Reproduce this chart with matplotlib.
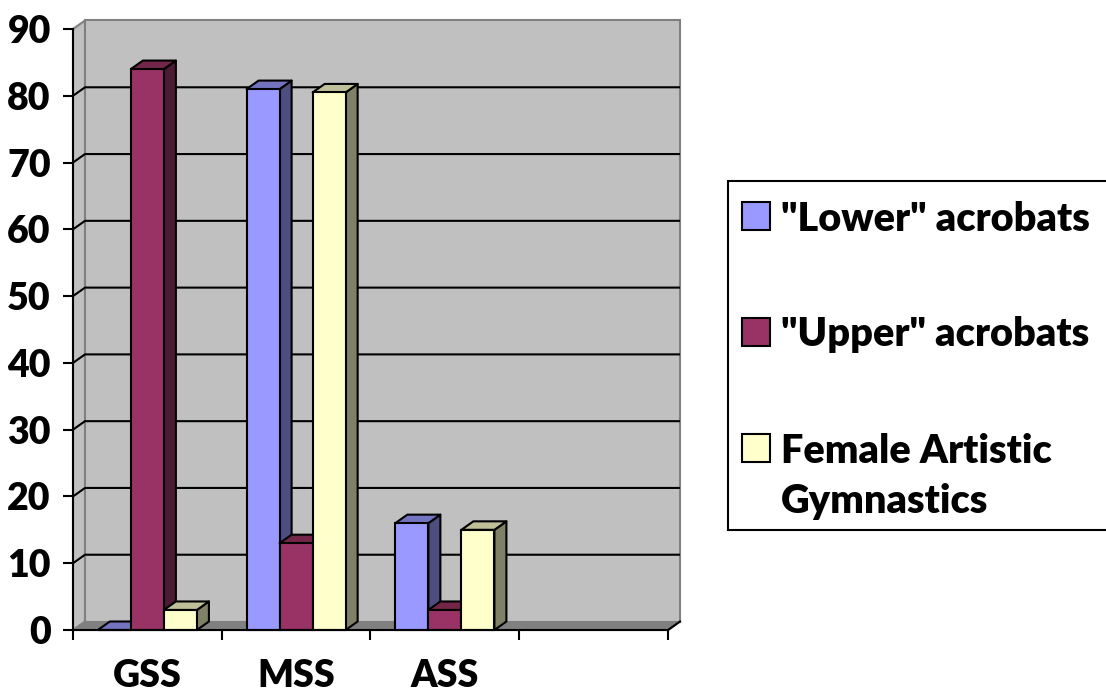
import matplotlib
matplotlib.use("Agg")
import matplotlib.pyplot as plt
from matplotlib.patches import Polygon, Rectangle

plt.rcParams['font.family'] = ['Lato', 'DejaVu Sans']
plt.rcParams['font.weight'] = 'heavy'

# data
categories = ["GSS", "MSS", "ASS", ""]
series_names = ['"Lower" acrobats', '"Upper" acrobats', 'Female Artistic\nGymnastics']
lower_vals = [0, 81, 16]
upper_vals = [84, 13, 3]
female_vals = [3, 80.5, 15]
y_ticks = list(range(0, 100, 10))

front_cols = ['#9999FF', '#993366', '#FFFFCC']
side_cols = ['#4D4D80', '#4D1A33', '#808066']
top_cols = ['#7373BF', '#732649', '#BFBF99']

W, H = 1106, 697
fig = plt.figure(figsize=(W / 100, H / 100), dpi=100)

# front plane of the plot: x 73..668 px, y 630..29 px
x0_px, x1_px, y0_px, y1_px = 73, 668, 630, 29
ax = fig.add_axes([x0_px / W, (H - y0_px) / H, (x1_px - x0_px) / W, (y0_px - y1_px) / H])
ncat = len(categories)
ymax = 90
ax.set_xlim(0, ncat)
ax.set_ylim(0, ymax)
ax.patch.set_visible(False)

# depth offset of the 3d look, in data units
DX = 12 / ((x1_px - x0_px) / ncat)
DY = 8.5 / ((y0_px - y1_px) / ymax)

wall = '#C0C0C0'
wall_edge = '#808080'

# floor
ax.add_patch(Polygon([(0, 0), (DX, DY), (ncat + DX, DY), (ncat, 0)], closed=True,
                     facecolor='#808080', edgecolor=wall_edge, lw=1.5, clip_on=False, zorder=0.5))
# left side wall
ax.add_patch(Polygon([(0, 0), (DX, DY), (DX, ymax + DY), (0, ymax)], closed=True,
                     facecolor=wall, edgecolor=wall_edge, lw=1.5, clip_on=False, zorder=0.5))
# back wall
ax.add_patch(Rectangle((DX, DY), ncat, ymax, facecolor=wall, edgecolor=wall_edge,
                       lw=1.5, clip_on=False, zorder=0.6))

# gridlines on side and back wall
for t in y_ticks[1:-1]:
    ax.plot([0, DX, ncat + DX], [t, t + DY, t + DY], color='black', lw=1.5,
            clip_on=False, zorder=1, solid_capstyle='butt')
ax.plot([ncat, ncat + DX], [0, DY], color='black', lw=1.5, clip_on=False, zorder=1)

# bars
bw = 0.222
all_vals = [lower_vals, upper_vals, female_vals]
for c in range(len(lower_vals)):
    for s, vals in enumerate(all_vals):
        v = vals[c]
        left = c + 0.5 + (s - 1.5) * bw
        z = 2 + c * 3 + s
        ax.add_patch(Polygon([(left + bw, 0), (left + bw + DX, DY), (left + bw + DX, v + DY), (left + bw, v)],
                             closed=True, facecolor=side_cols[s], edgecolor='black', lw=1.5,
                             clip_on=False, zorder=z, joinstyle='round'))
        ax.add_patch(Polygon([(left, v), (left + DX, v + DY), (left + bw + DX, v + DY), (left + bw, v)],
                             closed=True, facecolor=top_cols[s], edgecolor='black', lw=1.5,
                             clip_on=False, zorder=z, joinstyle='round'))
        ax.bar(left, v, width=bw, align='edge', color=front_cols[s], edgecolor='black',
               lw=1.5, zorder=z + 0.5, clip_on=False)

# axes lines and ticks
for sp in ['top', 'right']:
    ax.spines[sp].set_visible(False)
for sp in ['left', 'bottom']:
    ax.spines[sp].set_linewidth(1.5)
    ax.spines[sp].set_zorder(20)
ax.set_yticks(y_ticks)
ax.set_yticklabels([str(t) for t in y_ticks])
ax.set_xticks(range(ncat + 1))
ax.set_xticklabels([])
ax.set_xticks([i + 0.5 for i in range(ncat)], minor=True)
ax.set_xticklabels(categories, minor=True)
ax.tick_params(axis='both', which='major', direction='out', length=7, width=1.5, color='black')
ax.tick_params(axis='y', labelsize=27, pad=9)
ax.tick_params(axis='x', which='minor', length=0, labelsize=27, pad=21)

# legend box, drawn by hand
def fx(px):
    return px / W

def fy(py):
    return 1 - py / H

fig.add_artist(Rectangle((fx(728), fy(530)), fx(1120) - fx(728), fy(181) - fy(530),
                         transform=fig.transFigure, facecolor='white', edgecolor='black',
                         lw=1.5, clip_on=False))
square_tops = [202, 318, 434]
baselines = [231, 346.5, 463]
for s, name in enumerate(series_names):
    fig.add_artist(Rectangle((fx(742), fy(square_tops[s] + 28)), fx(28), 28 / H,
                             transform=fig.transFigure, facecolor=front_cols[s],
                             edgecolor='black', lw=1.5))
    for k, line in enumerate(name.split('\n')):
        fig.text(fx(781), fy(baselines[s] + 50 * k), line, fontsize=28.5, fontweight='heavy',
                 va='baseline', ha='left')

fig.savefig("out.png", dpi=100)
